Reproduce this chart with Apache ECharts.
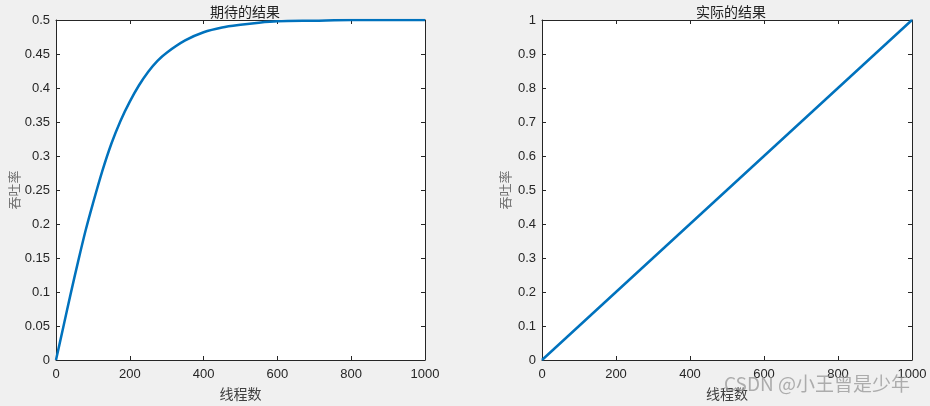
<!DOCTYPE html>
<html>
<head>
<meta charset="utf-8">
<script src="https://cdn.jsdelivr.net/npm/echarts@6/dist/echarts.min.js"></script>
<style>
html,body{margin:0;padding:0;background:#f0f0f0;}
#c{width:930px;height:406px;}
</style>
</head>
<body>
<div id="c"></div>
<script>
// Left subplot: expected throughput
var expectedX = [0, 20, 40, 60, 80, 100, 125, 150, 175, 200, 225, 250, 275, 300, 350, 400, 450, 500, 550, 600, 700, 800, 900, 1000];
var expectedY = [0, 0.049, 0.098, 0.145, 0.19, 0.23, 0.277, 0.318, 0.352, 0.38, 0.404, 0.424, 0.44, 0.452, 0.47, 0.482, 0.489, 0.493, 0.496, 0.498, 0.499, 0.5, 0.5, 0.5];
// Right subplot: actual throughput
var actualX = [0, 200, 400, 600, 800, 1000];
var actualY = [0, 0.2, 0.4, 0.6, 0.8, 1.0];

var titles = ['期待的结果', '实际的结果'];
var xName = '线程数';
var yName = '吞吐率';
var watermark = 'CSDN @小王曾是少年';

function pairs(xs, ys){ return xs.map(function(x,i){ return [x, ys[i]]; }); }

var axisColor = '#262626';
var labelFont = {color: axisColor, fontSize: 13, fontFamily: 'Liberation Sans, Arial, sans-serif'};
var cjk = '"Noto Sans CJK SC", sans-serif';

var grids = [
  {left: 56, top: 20, width: 369, height: 341},
  {left: 542, top: 20, width: 370, height: 341}
];

function baseAxis(i, max, interval){
  return {
    type: 'value', gridIndex: i, min: 0, max: max, interval: interval,
    axisLine: {show: true, onZero: false, lineStyle: {color: axisColor, width: 1}},
    axisTick: {show: true, inside: true, length: 4, lineStyle: {color: axisColor}},
    splitLine: {show: false}
  };
}
function xAxes(i){
  return [
    Object.assign(baseAxis(i, 1000, 200), {position: 'bottom',
      axisLabel: Object.assign({margin: 8, showMaxLabel: true, formatter: function(v){ return String(v); }}, labelFont),
      name: xName, nameLocation: 'middle', nameGap: 27,
      nameTextStyle: {color: '#404040', fontSize: 14, fontFamily: cjk}}),
    Object.assign(baseAxis(i, 1000, 200), {position: 'top', axisLabel: {show: false}})
  ];
}
function yAxes(i, max, interval, gap){
  return [
    Object.assign(baseAxis(i, max, interval), {position: 'left',
      axisLabel: Object.assign({margin: 6, formatter: function(v){ return String(+v.toFixed(2)); }}, labelFont),
      name: yName, nameLocation: 'middle', nameGap: gap, nameRotate: 90,
      nameTextStyle: {color: '#707070', fontSize: 13, fontFamily: cjk}}),
    Object.assign(baseAxis(i, max, interval), {position: 'right', axisLabel: {show: false}})
  ];
}

var chart = echarts.init(document.getElementById('c'));
chart.setOption({
  backgroundColor: '#f0f0f0',
  animation: false,
  title: [
    {text: titles[0], left: 240, top: 0, textAlign: 'center',
     textStyle: {fontSize: 14, fontWeight: 'normal', color: '#222', fontFamily: cjk}},
    {text: titles[1], left: 726, top: 0, textAlign: 'center',
     textStyle: {fontSize: 14, fontWeight: 'normal', color: '#222', fontFamily: cjk}}
  ],
  grid: grids.map(function(g){ return Object.assign({backgroundColor: '#ffffff', show: true, borderWidth: 0}, g); }),
  xAxis: xAxes(0).concat(xAxes(1)),
  yAxis: yAxes(0, 0.5, 0.05, 35).concat(yAxes(1, 1, 0.1, 30)),
  series: [
    {type: 'line', xAxisIndex: 0, yAxisIndex: 0, data: pairs(expectedX, expectedY),
     smooth: 0.3, showSymbol: false, lineStyle: {color: '#0072BD', width: 2.5}},
    {type: 'line', xAxisIndex: 2, yAxisIndex: 2, data: pairs(actualX, actualY),
     showSymbol: false, lineStyle: {color: '#0072BD', width: 2.5}}
  ],
  graphic: [
    {type: 'text', left: 724, top: 374, z: 100,
     style: {text: watermark, fill: 'rgba(150,150,150,0.75)', fontSize: 19, fontFamily: cjk}}
  ]
});
</script>
</body>
</html>
